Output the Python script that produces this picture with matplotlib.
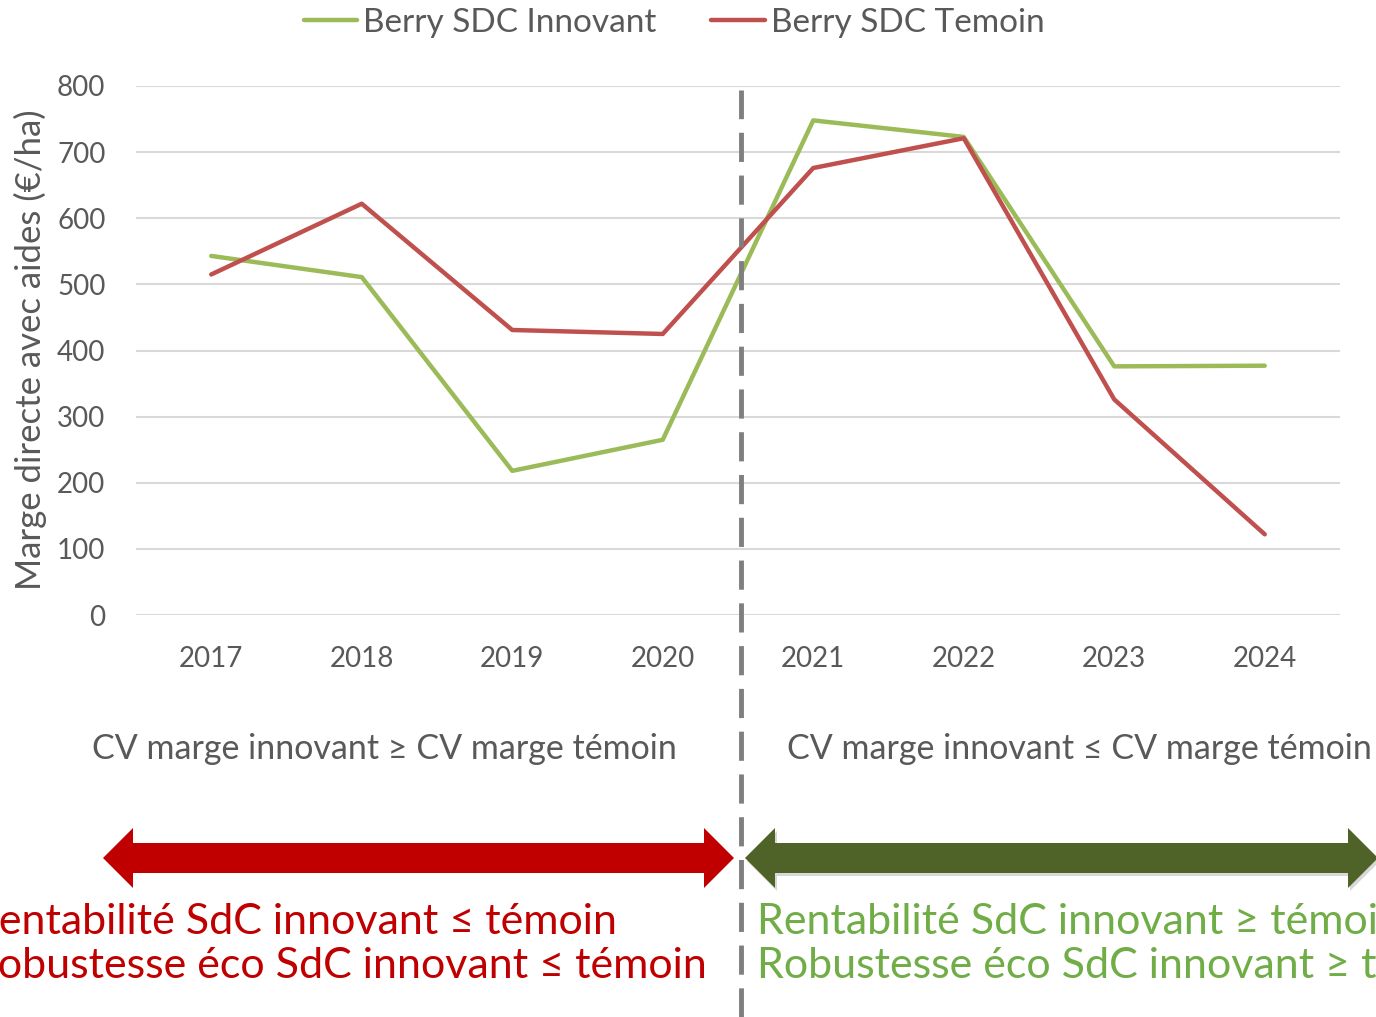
import matplotlib
matplotlib.use("Agg")
import matplotlib.pyplot as plt
from matplotlib.patches import Polygon

years = ["2017", "2018", "2019", "2020", "2021", "2022", "2023", "2024"]
innovant = [543, 511, 218, 265, 748, 723, 376, 377]
temoin = [515, 622, 431, 425, 676, 721, 326, 122]
yticks = [0, 100, 200, 300, 400, 500, 600, 700, 800]

FONT = ["Lato", "DejaVu Sans"]
plt.rcParams["font.family"] = FONT
GRAY = "#595959"

W, H = 1376, 1017
fig = plt.figure(figsize=(W / 100, H / 100), dpi=100)
ax = fig.add_axes([136 / W, 1 - 615 / H, (1340 - 136) / W, (615 - 86) / H])

x = list(range(len(years)))
ax.plot(x, innovant, color="#9BBB59", lw=3.2, solid_capstyle="round", label="Berry SDC Innovant", zorder=3)
ax.plot(x, temoin, color="#C0504D", lw=3.2, solid_capstyle="round", label="Berry SDC Temoin", zorder=3)

ax.set_xlim(-0.5, len(years) - 0.5)
ax.set_ylim(0, 800)
ax.set_yticks(yticks)
ax.set_xticks(x)
ax.set_xticklabels(years)
ax.grid(axis="y", color="#D9D9D9", lw=1.5)
ax.set_axisbelow(True)
for s in ax.spines.values():
    s.set_visible(False)
ax.tick_params(length=0, labelsize=20, colors=GRAY)
ax.tick_params(axis="y", pad=22)
ax.tick_params(axis="x", pad=22)

fig.text(30 / W, 1 - 350 / H, "Marge directe avec aides (€/ha)", rotation=90, ha="center", va="center",
         fontsize=25, color=GRAY)

leg = fig.legend(loc="center", bbox_to_anchor=(674 / W, 1 - 23 / H), ncol=2, frameon=False,
                 fontsize=24, handlelength=1.6, handletextpad=0.18, columnspacing=1.65, labelcolor=GRAY,
                 borderpad=0, borderaxespad=0)

# dashed vertical separator
fig.add_artist(plt.Line2D([741 / W, 741 / W], [0, 1 - 90 / H], transform=fig.transFigure,
                          color="#7F7F7F", lw=3.5, dashes=(6, 2.8), zorder=5))

fig.text(384 / W, 1 - 749 / H, "CV marge innovant ≥ CV marge témoin", ha="center", va="center",
         fontsize=24.5, color=GRAY)
fig.text(787 / W, 1 - 749 / H, "CV marge innovant ≤ CV marge témoin", ha="left", va="center",
         fontsize=24.5, color=GRAY)

def double_arrow(x0, x1, yc, color, shadow=False):
    hb = 15  # half body
    hh = 30  # half head
    hl = 30  # head length
    pts = [(x0, yc), (x0 + hl, yc + hh), (x0 + hl, yc + hb), (x1 - hl, yc + hb), (x1 - hl, yc + hh),
           (x1, yc), (x1 - hl, yc - hh), (x1 - hl, yc - hb), (x0 + hl, yc - hb), (x0 + hl, yc - hh)]
    pts = [(px / W, 1 - py / H) for px, py in pts]
    if shadow:
        sp = [(px + 2 / W, py - 3 / H) for px, py in pts]
        fig.add_artist(Polygon(sp, closed=True, transform=fig.transFigure, facecolor="#BFBFBF",
                               edgecolor="none", alpha=0.6))
    fig.add_artist(Polygon(pts, closed=True, transform=fig.transFigure, facecolor=color, edgecolor="none"))

double_arrow(103, 734, 858, "#C00000")
double_arrow(745, 1378, 858, "#4F6228", shadow=True)

fs = 31
fig.text(617 / W, 1 - 922 / H, "Rentabilité SdC innovant ≤ témoin", ha="right", va="center",
         fontsize=fs, color="#C00000")
fig.text(707 / W, 1 - 966 / H, "Robustesse éco SdC innovant ≤ témoin", ha="right", va="center",
         fontsize=fs, color="#C00000")
fig.text(757 / W, 1 - 922 / H, "Rentabilité SdC innovant ≥ témoin", ha="left", va="center",
         fontsize=fs, color="#70AD47")
fig.text(757 / W, 1 - 966 / H, "Robustesse éco SdC innovant ≥ témoin", ha="left", va="center",
         fontsize=fs, color="#70AD47")

fig.savefig("out.png", dpi=100)
